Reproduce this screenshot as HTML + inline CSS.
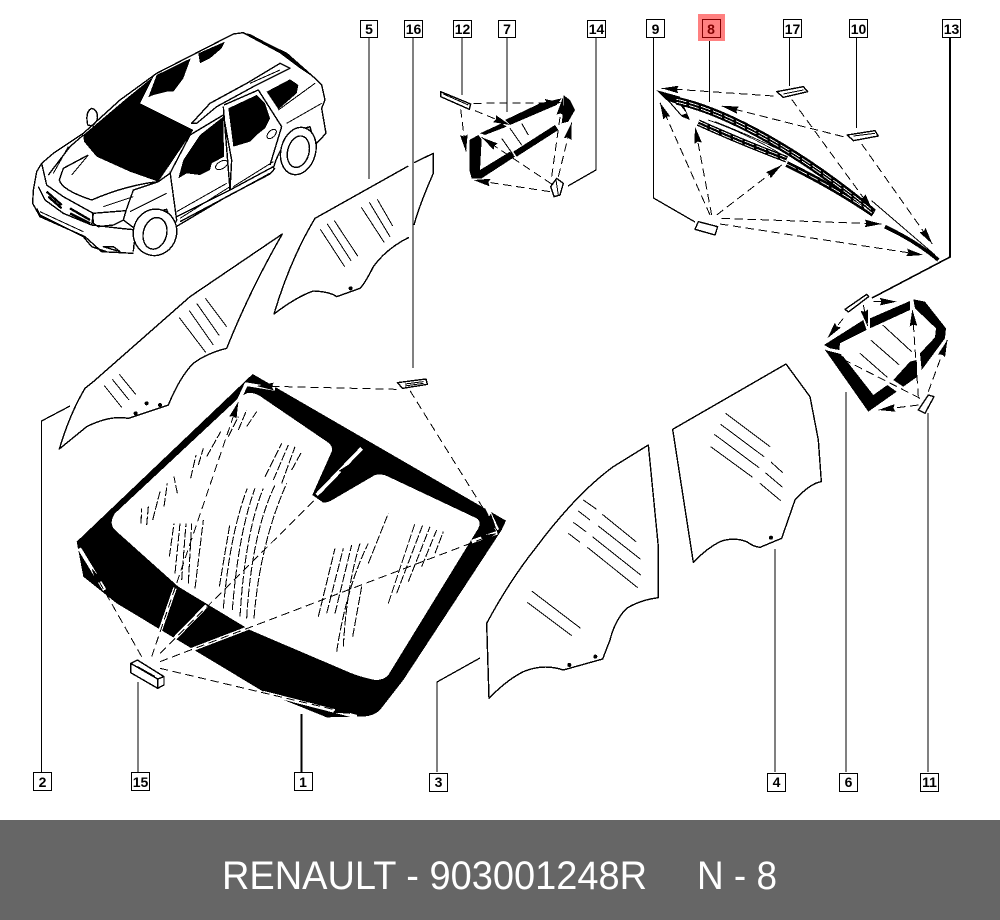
<!DOCTYPE html>
<html><head><meta charset="utf-8"><style>
html,body{margin:0;padding:0;background:#fff}
svg{display:block}
svg *{shape-rendering:crispEdges}
.t{font-family:"Liberation Sans",sans-serif;font-weight:bold;font-size:14px;text-anchor:middle;fill:#000}
.b{fill:#fff;stroke:#000;stroke-width:1.3}
.l{stroke:#000;stroke-width:1.3;fill:none}
.z{fill:none;stroke:#000;stroke-width:4.2;stroke-linejoin:round}
.n{fill:none;stroke:#000;stroke-width:3;stroke-linejoin:round}
.k{fill:#000;stroke:none}
.d{fill:none;stroke:#000;stroke-width:3;stroke-dasharray:25 14}
.w{fill:none;stroke:#fff;stroke-width:11}
.h{fill:none;stroke:#000;stroke-width:3.2;stroke-dasharray:26 6}
.wf{fill:#fff}
.f{font-family:"Liberation Sans",sans-serif;font-size:40px;fill:#fff}
.f{shape-rendering:auto}
</style></head><body>
<svg width="1000" height="920" viewBox="0 0 1000 920" xmlns="http://www.w3.org/2000/svg">
<defs>
<marker id="ar" viewBox="0 0 20 9" refX="20" refY="4.5" markerWidth="17" markerHeight="7.6" orient="auto" markerUnits="strokeWidth"><polygon points="0,0 20,4.500 0,9 2,4.500" fill="#000"/></marker>
</defs>
<rect width="1000" height="920" fill="#fff"/>

<!-- car -->
<g transform="translate(20,20) scale(.33333)">
<path class="z" d="M65,430 L100,400 L190,340 L300,240 L410,160 L640,42 L670,38 L800,100 L885,175 L905,195 L915,240 L905,265 L918,340 L885,375 M765,445 L750,462 L620,530 L460,625 M340,700 L245,695 L195,650 L60,590 L38,550 L40,510 L50,455 L65,430"/>
<polygon class="k" points="190,345 320,235 400,170 360,250 520,330 415,485 330,455 230,410 192,365"/>
<polygon class="k" points="385,232 410,165 512,115 490,175 460,215 440,215 400,225"/>
<polygon class="k" points="535,100 615,65 605,85 570,115 540,130"/>
<polygon class="k" points="665,38 690,42 800,100 885,175 840,145 780,100"/>
<polygon class="k" points="475,475 490,420 540,345 610,290 612,410 575,430 570,450 540,465 500,460"/>
<polygon class="k" points="625,265 710,225 735,250 750,295 735,325 710,345 690,365 640,380"/>
<polygon class="k" points="740,215 810,178 835,195 830,220 775,268"/>
<path class="z" d="M515,310 L570,250 L680,190 L780,130 L810,145 L700,200 L590,260 L530,310 Z M450,460 L510,345 L610,285 L635,420 L630,510 M610,260 L630,510 M450,455 L470,600 L458,625 M612,255 L715,210 L785,320 L750,435 M470,590 L630,510 L760,440 M203,315 Q195,275 215,265 Q235,270 232,300 L218,318 Z"/>
<path class="z" d="M118,480 Q125,510 215,540 Q320,495 415,485 L450,460 M118,480 L130,445 L205,405 M85,465 L150,380 L190,345 M55,500 L75,540 L130,580 L215,615 L220,580 L130,530 L80,495 L65,430 M218,580 L318,572 L310,600 L280,615 L235,620 L220,610 Z M318,572 L340,510 L415,485 M50,565 L60,585 L190,650 L215,680 L260,695 M310,600 L350,630 M215,615 L300,625 L350,630 M250,680 L300,695 L280,680 Z M340,695 Q345,590 440,568 L460,625 M760,445 Q790,340 870,320 L885,375 M480,605 L640,520 M640,520 L750,460"/>
<g fill="none" stroke="#000" stroke-width="7"><path d="M80,515 L125,555 M85,530 L125,565 M150,565 L210,600 M150,580 L210,610"/></g>
<path class="n" d="M145,380 L100,460 M205,405 L155,465 M250,560 L340,530 M330,575 L440,520 M470,575 L620,490 M480,595 L630,500 M640,500 L760,425 M775,270 L885,190 M800,310 L905,250 M690,190 L780,150 M60,575 L190,635"/>
<ellipse class="n" cx="605" cy="435" rx="20" ry="11" transform="rotate(-30 605 435)"/>
<ellipse class="n" cx="755" cy="342" rx="17" ry="10" transform="rotate(-45 755 342)"/>
<ellipse class="z wf" cx="405" cy="637" rx="65" ry="70" transform="rotate(15 405 637)"/>
<ellipse class="z" cx="405" cy="640" rx="35" ry="48" transform="rotate(15 405 640)"/>
<ellipse class="z wf" cx="835" cy="393" rx="52" ry="72" transform="rotate(15 835 393)"/>
<ellipse class="z" cx="835" cy="395" rx="32" ry="48" transform="rotate(15 835 395)"/>
</g>

<!-- part 2, 5 -->
<g transform="translate(50,150) scale(.33333)">
<path class="z" d="M697,252 Q600,420 530,595 Q470,610 430,640 Q390,680 355,765 L235,805 Q180,795 110,830 L28,897 Q60,790 105,715 L130,695 L420,440 Z"/>
<path class="z" d="M1092,38 L1150,10 L1150,70 Q1110,160 1092,225 M1077,262 Q1010,295 970,350 Q945,400 930,415 L860,440 Q840,425 790,423 Q740,440 672,492 Q720,330 795,205 L1075,48"/>
<path class="n" d="M388,503 L467,607 M418,482 L490,585 M440,460 L508,557 M466,445 L530,530 M163,707 L215,772 M187,688 L237,750 M208,673 L257,733 M811,238 L884,350 M832,222 L903,332 M853,212 L923,318 M934,172 L1003,278 M958,157 L1020,260 M982,148 L1028,228"/>
<g class="k"><circle cx="257" cy="790" r="6"/><circle cx="290" cy="760" r="6"/><circle cx="330" cy="765" r="6"/><circle cx="902" cy="415" r="6"/></g>
</g>

<!-- windshield -->
<g transform="translate(60,360) scale(.33333)">
<path class="k" d="M578,42 L1338,482 L1325,510 L1030,960 L960,1050 Q940,1070 900,1070 L800,1072 L610,995 L170,730 L70,650 L50,545 Z"/>
<path class="wf" d="M560,100 Q585,95 610,115 L805,248 Q820,260 815,275 L757,405 L790,428 Q805,428 820,418 L945,345 Q965,340 985,350 L1250,475 Q1265,485 1255,505 L985,945 Q965,965 935,958 Q900,950 870,938 L570,810 L355,680 L165,510 Q145,490 165,460 L540,110 Z"/>
<g class="h">
<path d="M243,490 L245,445 M260,495 L265,440 M278,480 L300,395 M312,440 L322,370 M352,400 L342,350 M392,355 L408,285 M415,315 L430,265 M440,290 L482,215 M505,230 L535,170 M535,210 L560,150 M560,200 L590,155"/>
<path d="M328,590 L342,490 M345,640 L360,490 M365,660 L378,490 M385,670 L395,490 M405,685 L430,480"/>
<path d="M478,680 L510,490 M490,745 Q510,520 562,385 M517,750 Q535,520 585,385 M540,770 Q555,520 610,385 M560,775 Q575,520 645,375 M582,775 Q600,550 680,370 M615,350 L665,250 M640,360 L685,255 M665,370 L705,260 M695,330 L725,275"/>
<path d="M775,770 L825,565 M800,760 L850,565 M825,760 L875,555 M850,860 Q860,680 900,550 M830,875 Q860,680 925,550 M878,830 L905,680 M925,610 L985,460"/>
<path d="M985,730 L1065,490 M1010,700 L1090,490 M1045,665 L1110,500 M1085,620 L1130,510 M1125,580 L1150,515"/>
</g>
<path class="w" d="M295,828 L345,684 M322,858 L440,737 M395,869 L575,800 M58,565 L134,690 M770,405 L905,265 M610,998 L890,1070 M1235,545 L1312,518 M1282,445 L1312,510 M555,72 L645,87 M532,130 L560,70"/>
<path class="d" d="M1010,88 L590,78" marker-end="url(#ar)"/>
<path class="d" d="M1050,92 L1310,510" marker-end="url(#ar)"/>
<path class="d" d="M245,890 L95,625" marker-end="url(#ar)"/>
<path class="d" d="M275,890 L535,125" marker-end="url(#ar)"/>
<path class="d" d="M300,880 L880,305" marker-end="url(#ar)"/>
<path class="d" d="M300,905 L1310,520" marker-end="url(#ar)"/>
<path class="d" d="M300,925 L870,1060" marker-end="url(#ar)"/>
<polygon class="z wf" points="212,910 232,900 312,950 312,975 293,985 212,938"/>
<path class="z" d="M212,910 L293,957 L312,950 M293,957 L293,985 M232,920 L285,950"/>
<polygon class="z wf" points="1012,68 1098,57 1102,73 1028,85"/>
<path class="n" d="M1012,68 L1028,85 M1035,72 L1090,65 M1035,78 L1090,70"/>
</g>

<!-- part 3,4 -->
<g transform="translate(470,360) scale(.33333)">
<path class="z" d="M535,255 L565,560 L565,713 Q510,720 470,745 Q435,780 420,840 L398,897 L280,930 Q220,910 160,935 Q110,960 57,1015 L50,790 Q120,660 200,560 Q320,400 430,320 Z"/>
<path class="z" d="M948,12 L1020,110 L1045,240 L1054,365 Q1020,370 975,420 L935,535 L870,562 Q850,560 830,545 Q790,530 750,545 Q710,565 670,607 L608,208 Z"/>
<path class="n" d="M767,160 L900,260 M752,193 L882,290 M733,223 L867,323 M722,260 L848,352 M903,306 L938,338 M886,338 L938,382 M870,370 L932,422 M340,420 L380,448 M325,453 L360,480 M310,487 L348,515 M295,520 L330,547 M397,463 L498,545 M385,498 L512,598 M367,530 L512,645 M352,562 L503,683 M185,693 L332,805 M172,727 L305,827"/>
<g class="k"><circle cx="298" cy="915" r="6"/><circle cx="376" cy="890" r="6"/><circle cx="903" cy="533" r="6"/></g>
</g>

<!-- part 7 -->
<g transform="translate(430,80) scale(.33333)">
<polygon class="k" points="118,180 145,165 155,178 150,270 240,215 255,230 155,295 125,295 118,270"/>
<polygon class="k" points="150,160 215,130 230,140 165,165"/>
<polygon class="k" points="225,120 330,70 395,55 380,75 240,135"/>
<polygon class="k" points="250,215 375,135 385,150 260,230"/>
<polygon class="k" points="400,45 420,60 435,90 415,125 395,130 400,90"/>
<path class="n" d="M215,175 L250,225 M240,145 L275,195 M275,130 L295,165"/>
<polygon class="z wf" points="32,35 122,72 118,88 32,50"/>
<path class="n" d="M40,42 L115,75"/>
<polygon class="z wf" points="362,320 380,295 400,310 390,345 372,350"/>
<path class="n" d="M378,300 L385,345"/>
<path class="d" d="M92,88 L108,215" marker-end="url(#ar)"/>
<path class="d" d="M130,70 L395,68" marker-end="url(#ar)"/>
<path class="d" d="M135,92 L240,135" marker-end="url(#ar)"/>
<path class="d" d="M365,312 L155,172" marker-end="url(#ar)"/>
<path class="d" d="M360,335 L130,300" marker-end="url(#ar)"/>
<path class="d" d="M365,290 L398,55" marker-end="url(#ar)"/>
<path class="d" d="M385,290 L425,128" marker-end="url(#ar)"/>
</g>

<!-- part 8 -->
<g transform="translate(640,70) scale(.33333)">
<polygon class="k" points="48,60 120,80 150,150 125,140 90,100"/>
<polygon class="wf" points="90,95 120,105 140,130 125,135"/>
<path fill="none" stroke="#000" stroke-width="24" d="M110,92 C260,125 480,245 700,428"/>
<path fill="none" stroke="#000" stroke-width="20" d="M175,158 Q300,215 440,268"/>
<path fill="none" stroke="#000" stroke-width="18" d="M440,282 Q580,350 700,432"/>
<path fill="none" stroke="#fff" stroke-width="2.5" stroke-dasharray="30 8" d="M110,88 C260,121 480,241 700,424 M110,97 C260,130 480,250 690,425 M175,153 Q300,210 440,263 M175,163 Q300,220 440,273 M440,282 Q580,350 700,432"/>
<path fill="none" stroke="#000" stroke-width="2.5" d="M205,150 Q320,190 440,262 M225,155 Q340,200 440,250"/>
<path fill="none" stroke="#000" stroke-width="11" d="M735,470 Q830,515 895,570"/>
<path fill="none" stroke="#000" stroke-width="3" d="M695,392 L885,555"/>
<polygon class="z wf" points="410,65 490,50 503,65 430,82"/>
<path class="n" d="M430,72 L490,60"/>
<polygon class="z wf" points="622,195 705,182 715,198 640,212"/>
<path class="n" d="M640,198 L705,190"/>
<polygon class="z wf" points="165,478 175,455 233,470 225,495"/>
<path class="d" d="M400,78 L65,55" marker-end="url(#ar)"/>
<path class="d" d="M610,200 L245,108" marker-end="url(#ar)"/>
<path class="d" d="M455,88 L697,420" marker-end="url(#ar)"/>
<path class="d" d="M665,222 L877,522" marker-end="url(#ar)"/>
<path class="d" d="M210,435 L60,98" marker-end="url(#ar)"/>
<path class="d" d="M215,435 L165,170" marker-end="url(#ar)"/>
<path class="d" d="M230,435 L425,285" marker-end="url(#ar)"/>
<path class="d" d="M245,445 L725,462" marker-end="url(#ar)"/>
<path class="d" d="M240,462 L850,555" marker-end="url(#ar)"/>
</g>

<!-- part 6 -->
<g transform="translate(810,250) scale(.33333)">
<polygon class="k" points="42,285 160,210 170,240 90,280 88,300 60,295"/>
<polygon class="k" points="180,205 300,153 300,180 180,235"/>
<polygon class="k" points="310,148 345,155 408,235 405,265 335,360 330,310 375,262 378,235 315,175"/>
<polygon class="k" points="45,300 175,485 260,425 232,405 190,435 100,320 85,310"/>
<polygon class="k" points="250,390 300,335 320,330 322,380 280,410"/>
<path class="n" d="M218,225 L305,305 M182,270 L268,345 M150,310 L232,382"/>
<polygon class="z wf" points="105,178 170,133 176,140 115,186"/>
<polygon class="z wf" points="325,480 355,435 372,440 345,490"/>
<path class="d" d="M190,155 L260,155" marker-end="url(#ar)"/>
<path class="d" d="M160,165 L173,230" marker-end="url(#ar)"/>
<path class="d" d="M100,205 L52,265" marker-end="url(#ar)"/>
<path class="d" d="M330,445 L45,300" marker-end="url(#ar)"/>
<path class="d" d="M325,440 L307,178" marker-end="url(#ar)"/>
<path class="d" d="M355,425 L412,270" marker-end="url(#ar)"/>
<path class="d" d="M325,465 L205,480" marker-end="url(#ar)"/>
</g>

<!-- leaders -->
<g class="l">
<path d="M369,37 V179 M413,37 V368 M462,37 V95 M507,37 V112 M596,37 V170 L568,186 M653.500,37 V198 L695,222 M709.500,40 V102 M789.500,37 V86 M856.500,37 V128 M41.500,772 V421 L70,406 M138,772 V682 M437,772 V682 L480,658 M775,772 V549 M846,772 V392 M928,772 V413"/>
<path d="M950,37 V257 L872,298" stroke-width="1.6"/>
<path d="M301.500,772 V714" stroke-width="2.2"/>
</g>

<!-- label boxes -->
<g>
<rect x="360.500" y="20.500" width="17" height="17" class="b"/><text x="369" y="34" class="t">5</text>
<rect x="404.500" y="20.500" width="18" height="17" class="b"/><text x="413.500" y="34" class="t">16</text>
<rect x="453.500" y="20.500" width="18" height="17" class="b"/><text x="462.500" y="34" class="t">12</text>
<rect x="498.500" y="20.500" width="17" height="17" class="b"/><text x="507" y="34" class="t">7</text>
<rect x="587.500" y="20.500" width="18" height="17" class="b"/><text x="596.500" y="34" class="t">14</text>
<rect x="646.500" y="19.500" width="18" height="18" class="b"/><text x="655.500" y="34" class="t">9</text>
<rect x="698" y="14" width="27" height="27" fill="#ff8080"/>
<rect x="702.500" y="19.500" width="18" height="18" fill="none" stroke="#800000" stroke-width="1.3"/><text x="711" y="34" class="t" style="fill:#800000">8</text>
<rect x="783.500" y="19.500" width="18" height="18" class="b"/><text x="792.500" y="34" class="t">17</text>
<rect x="849.500" y="19.500" width="18" height="18" class="b"/><text x="858.500" y="34" class="t">10</text>
<rect x="942.500" y="19.500" width="18" height="18" class="b"/><text x="951.500" y="34" class="t">13</text>
<rect x="33.500" y="772.500" width="18" height="18" class="b"/><text x="42.500" y="787" class="t">2</text>
<rect x="131.500" y="772.500" width="18" height="18" class="b"/><text x="140.500" y="787" class="t">15</text>
<rect x="294.500" y="772.500" width="18" height="18" class="b"/><text x="303" y="787" class="t">1</text>
<rect x="429.500" y="773.500" width="18" height="18" class="b"/><text x="438.500" y="787" class="t">3</text>
<rect x="767.500" y="773.500" width="18" height="18" class="b"/><text x="776.500" y="787" class="t">4</text>
<rect x="839.500" y="773.500" width="18" height="18" class="b"/><text x="848.500" y="787" class="t">6</text>
<rect x="920.500" y="773.500" width="18" height="18" class="b"/><text x="929.500" y="787" class="t">11</text>
</g>

<!-- footer -->
<rect x="0" y="820" width="1000" height="100" fill="#666"/>
<text class="f" x="222" y="889" textLength="425" lengthAdjust="spacingAndGlyphs">RENAULT - 903001248R</text>
<text class="f" x="697" y="889" textLength="80" lengthAdjust="spacingAndGlyphs">N - 8</text>
</svg>
</body></html>
